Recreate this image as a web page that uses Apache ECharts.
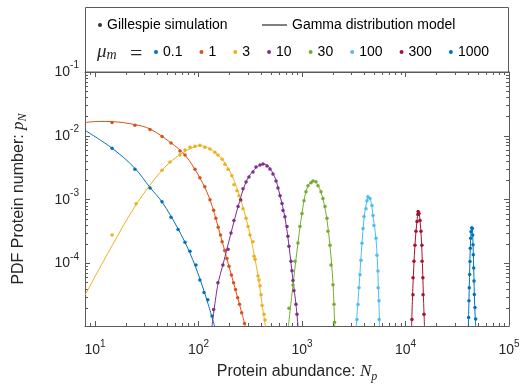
<!DOCTYPE html>
<html>
<head>
<meta charset="utf-8">
<script src="https://cdn.jsdelivr.net/npm/echarts@6/dist/echarts.min.js"></script>
<style>
  html, body { margin: 0; padding: 0; background: #fff; }
  #main { width: 524px; height: 388px; }
</style>
</head>
<body>
<div id="main"></div>
<script>
// mu_m values and MATLAB default colours
const muLabels = ['0.1', '1', '3', '10', '30', '100', '300', '1000'];
const muColors = ['#0072BD', '#D95319', '#EDB120', '#7E2F8E', '#77AC30', '#4DBEEE', '#A2142F', '#0072BD'];

const xTicks = [10, 100, 1000, 10000, 100000];
const yTicks = [1e-4, 1e-3, 1e-2, 1e-1];

// Gillespie simulation points [N_p, p_N]
const simMu01 = [[14.6, 6.4e-3], [24.3, 3.0e-3], [34, 1.53e-3], [44.4, 9.3e-4], [54.2, 5.3e-4], [63.4, 3.4e-4], [74, 2.15e-4],
  [82.7, 1.56e-4], [94.5, 9.5e-5], [103, 5.5e-5], [113, 3.5e-5], [123, 2.7e-5], [135, 1.5e-5]];
const simMu1 = [[14.6, 0.0162], [24.3, 0.0146], [34, 0.0126], [44.4, 0.0098], [54.2, 0.0077], [66.2, 0.0058], [74, 0.005],
  [92.5, 0.003], [103, 0.0022], [115, 0.0016], [129, 0.001], [140, 6.8e-4], [147, 5.1e-4], [155, 3.7e-4], [163, 2.8e-4],
  [169, 2.2e-4], [179, 1.6e-4], [188, 1.2e-4], [197, 9.1e-5], [208, 6.6e-5], [218, 5.0e-5], [228, 3.9e-5], [239, 2.9e-5],
  [249, 2.3e-5], [261, 1.7e-5], [278, 1.15e-5]];
const simMu3 = [[14.6, 2.8e-4], [24.9, 8.6e-4], [44.4, 2.9e-3], [53, 3.9e-3], [66.2, 5.0e-3], [74, 6.0e-3], [82.8, 6.6e-3],
  [92.5, 6.9e-3], [103, 7.1e-3], [115, 6.6e-3], [129, 6.2e-3], [144, 5.55e-3], [154, 5.0e-3], [169, 4.3e-3], [180, 3.6e-3],
  [193, 3.0e-3], [210, 2.36e-3], [220, 1.71e-3], [235, 1.38e-3], [246, 1.15e-3], [257, 9.6e-4], [269, 7.2e-4], [288, 5.1e-4],
  [301, 3.8e-4], [314, 2.8e-4], [336, 2.2e-4], [344, 1.3e-4], [352, 1.17e-4], [376, 6.4e-5], [384, 5.5e-5], [393, 4.5e-5],
  [402, 3.25e-5], [411, 2.2e-5], [430, 1.6e-5], [439, 1.3e-5]];
const simMu10 = [[140, 1.9e-5], [154, 5.0e-5], [172, 9.5e-5], [193, 1.68e-4], [206, 3.0e-4], [220, 4.7e-4], [241, 7.8e-4],
  [255, 1.0e-3], [269, 1.48e-3], [288, 1.9e-3], [307, 2.27e-3], [336, 2.72e-3], [359, 3.25e-3], [393, 3.49e-3], [420, 3.62e-3],
  [459, 3.37e-3], [490, 3.03e-3], [524, 2.53e-3], [561, 1.97e-3], [586, 1.53e-3], [613, 1.15e-3], [641, 8.7e-4], [655, 6.75e-4],
  [684, 5.4e-4], [716, 3.8e-4], [731, 2.67e-4], [748, 1.87e-4], [782, 1.09e-4], [800, 7.7e-5], [818, 5.4e-5], [836, 3.75e-5],
  [874, 2.3e-5], [894, 1.6e-5]];
const simMu30 = [[748, 2.0e-5], [818, 4.6e-5], [855, 1.09e-4], [914, 2.1e-4], [955, 3.8e-4], [999, 6.1e-4], [1045, 9.6e-4],
  [1092, 1.33e-3], [1142, 1.65e-3], [1221, 1.84e-3], [1276, 1.97e-3], [1364, 1.91e-3], [1426, 1.65e-3], [1525, 1.33e-3],
  [1594, 1.04e-3], [1667, 7.8e-4], [1743, 5.1e-4], [1782, 3.2e-4], [1863, 1.94e-4], [1904, 9.5e-5], [1991, 4.65e-5],
  [2036, 2.3e-5], [2060, 1.2e-5]];
const simMu100 = [[3396, 1.33e-5], [3475, 2.27e-5], [3551, 4.17e-5], [3631, 6.64e-5], [3715, 1.13e-4], [3796, 2.08e-4],
  [3884, 3.55e-4], [3972, 5.44e-4], [4150, 7.24e-4], [4246, 9.64e-4], [4335, 1.11e-3], [4539, 1.04e-3], [4742, 8.07e-4],
  [4853, 5.65e-4], [4955, 3.95e-4], [5188, 2.48e-4], [5297, 1.35e-4], [5420, 7.66e-5], [5440, 4.17e-5], [5546, 2.62e-5],
  [5560, 1.33e-5]];
const simMu300 = [[11540, 1.33e-5], [11800, 3.25e-5], [11820, 5.96e-5], [12070, 1.09e-4], [12340, 1.94e-4], [12620, 3.19e-4],
  [12910, 4.56e-4], [13150, 5.85e-4], [13250, 6.52e-4], [13500, 6.07e-4], [13800, 4.72e-4], [14110, 3.19e-4], [14400, 1.94e-4],
  [14460, 1.09e-4], [14720, 5.96e-5], [14780, 3.25e-5], [15080, 1.6e-5]];
const simMu1000 = [[40740, 1.43e-5], [41020, 2.6e-5], [41300, 4.17e-5], [41690, 6.7e-5], [41980, 1.08e-4], [42270, 1.74e-4],
  [42660, 2.48e-4], [42950, 3.15e-4], [43640, 3.64e-4], [44200, 3.55e-4], [44570, 2.8e-4], [44880, 1.96e-4], [45190, 1.37e-4],
  [45600, 8.5e-5], [45920, 5.3e-5], [46220, 3.28e-5], [46900, 2.04e-5], [47640, 1.35e-5]];

// Gamma distribution model curves
const fitMu01 = [[8, 0.0122], [14.6, 0.0064], [24.3, 0.0031], [34, 0.00155], [44.4, 9.2e-4], [63.4, 3.5e-4], [82.7, 1.45e-4],
  [103, 5.8e-5], [123, 2.4e-5], [144, 1.0e-5]];
const fitMu1 = [[8, 0.0162], [11, 0.0168], [14.6, 0.0167], [24.3, 0.015], [34, 0.0128], [54, 0.0078], [74, 0.005], [103, 0.0022],
  [129, 0.001], [155, 3.7e-4], [197, 9.0e-5], [239, 2.9e-5], [285, 1.0e-5]];
const fitMu3 = [[8, 3.2e-5], [14.6, 1.9e-4], [24.9, 8.3e-4], [44.4, 2.9e-3], [66.2, 5.1e-3], [92.5, 6.8e-3], [103, 7.0e-3],
  [129, 6.3e-3], [169, 4.3e-3], [210, 2.4e-3], [257, 9.8e-4], [314, 2.9e-4], [376, 6.4e-5], [411, 2.3e-5], [445, 1.0e-5]];
const fitMu10 = [[135, 1.05e-5], [154, 4.8e-5], [172, 9.5e-5], [206, 3.0e-4], [241, 7.8e-4], [288, 1.9e-3], [336, 2.8e-3],
  [393, 3.5e-3], [440, 3.6e-3], [490, 3.1e-3], [561, 2.0e-3], [613, 1.15e-3], [684, 5.3e-4], [748, 1.9e-4], [818, 5.4e-5],
  [874, 2.3e-5], [914, 1.05e-5]];
const fitMu30 = [[740, 1.05e-5], [818, 4.6e-5], [914, 2.1e-4], [999, 6.1e-4], [1092, 1.35e-3], [1200, 1.85e-3], [1300, 1.98e-3],
  [1426, 1.7e-3], [1594, 1.03e-3], [1743, 4.8e-4], [1863, 1.9e-4], [1991, 5.0e-5], [2070, 1.05e-5]];
const fitMu100 = [[3340, 1.05e-5], [3551, 4.2e-5], [3796, 2.1e-4], [4000, 5.6e-4], [4246, 9.8e-4], [4400, 1.11e-3],
  [4600, 1.0e-3], [4853, 5.6e-4], [5188, 2.4e-4], [5420, 6.5e-5], [5620, 1.05e-5]];
const fitMu300 = [[11450, 1.05e-5], [11800, 4.5e-5], [12340, 1.95e-4], [12910, 4.6e-4], [13350, 6.5e-4], [13800, 4.8e-4],
  [14430, 1.5e-4], [14900, 3.0e-5], [15250, 1.05e-5]];
const fitMu1000 = [[40500, 1.05e-5], [41300, 4.2e-5], [42270, 1.75e-4], [43200, 3.4e-4], [43900, 3.65e-4], [44570, 2.85e-4],
  [45600, 8.5e-5], [46600, 2.2e-5], [47700, 1.05e-5]];

const simSets = [simMu01, simMu1, simMu3, simMu10, simMu30, simMu100, simMu300, simMu1000];
const fitSets = [fitMu01, fitMu1, fitMu3, fitMu10, fitMu30, fitMu100, fitMu300, fitMu1000];

const X_MIN = 8, X_MAX = 1e5, Y_MIN = 1.05e-5, Y_MAX = 0.1;
const AXIS_COLOR = '#5a5a5a';
const TEXT_COLOR = '#262626';
const FONT = 'Liberation Sans';

// minor tick positions 2..9 x 10^n
const minorTicks = (lo, hi) => {
  const out = [];
  for (let d = Math.floor(Math.log10(lo)); d < Math.ceil(Math.log10(hi)); d++) {
    for (let k = 2; k <= 9; k++) {
      const v = k * Math.pow(10, d);
      if (v > lo && v < hi) out.push(v);
    }
  }
  return out;
};

const powLabel = v => '{b|10}{s|' + Math.round(Math.log10(v)) + '}';
const powRich = {
  b: { fontSize: 14, color: TEXT_COLOR, fontFamily: FONT },
  s: { fontSize: 10, color: TEXT_COLOR, fontFamily: FONT, padding: [0, 0, 13, 0] }
};

const makeAxis = (dim, position, major, withLabels) => {
  const isX = dim === 'x';
  const ticks = major ? (isX ? xTicks : yTicks) : (isX ? minorTicks(X_MIN, X_MAX) : minorTicks(Y_MIN, Y_MAX));
  const ax = {
    type: 'log',
    position: position,
    min: isX ? X_MIN : Y_MIN,
    max: isX ? X_MAX : Y_MAX,
    axisLine: { show: major, lineStyle: { color: AXIS_COLOR, width: 1 } },
    axisTick: { show: true, inside: true, length: major ? 5 : 3, customValues: ticks, lineStyle: { color: AXIS_COLOR, width: 1 } },
    axisLabel: { show: false },
    splitLine: { show: false },
    minorTick: { show: false },
    minorSplitLine: { show: false }
  };
  if (withLabels) {
    ax.axisLabel = {
      show: true,
      customValues: ticks,
      formatter: powLabel,
      rich: powRich,
      margin: isX ? 13 : 6
    };
  }
  return ax;
};

const xAxes = [makeAxis('x', 'bottom', true, true), makeAxis('x', 'bottom', false, false),
  makeAxis('x', 'top', true, false), makeAxis('x', 'top', false, false)];
xAxes[0].name = 'Protein abundance: {i|N}{sub|p}';
xAxes[0].nameLocation = 'middle';
xAxes[0].nameGap = 35;
xAxes[0].nameTextStyle = {
  fontSize: 16, color: TEXT_COLOR, fontFamily: FONT,
  rich: {
    i: { fontSize: 17, fontFamily: 'Liberation Serif', fontStyle: 'italic', color: TEXT_COLOR },
    sub: { fontSize: 12, fontFamily: 'Liberation Serif', fontStyle: 'italic', color: TEXT_COLOR, padding: [10, 0, 0, 0] }
  }
};

const yAxes = [makeAxis('y', 'left', true, true), makeAxis('y', 'left', false, false),
  makeAxis('y', 'right', true, false), makeAxis('y', 'right', false, false)];
yAxes[0].name = 'PDF Protein number: {i|p}{sub|N}';
yAxes[0].nameLocation = 'middle';
yAxes[0].nameGap = 56;
yAxes[0].nameTextStyle = {
  fontSize: 16, color: TEXT_COLOR, fontFamily: FONT,
  rich: {
    i: { fontSize: 17, fontFamily: 'Liberation Serif', fontStyle: 'italic', color: TEXT_COLOR },
    sub: { fontSize: 12, fontFamily: 'Liberation Serif', fontStyle: 'italic', color: TEXT_COLOR, padding: [9, 0, 0, 0] }
  }
};

const series = [];
fitSets.forEach((d, i) => {
  series.push({
    name: muLabels[i], type: 'line', data: d, smooth: 0.35, showSymbol: false, silent: true,
    lineStyle: { color: muColors[i], width: 1 }, itemStyle: { color: muColors[i] }, z: 2
  });
});
simSets.forEach((d, i) => {
  series.push({
    name: muLabels[i], type: 'scatter', data: d, symbol: 'circle', symbolSize: 3.5, silent: true,
    itemStyle: { color: muColors[i], opacity: 1 }, z: 3
  });
});
// legend-only entries
series.push({ name: 'Gillespie simulation', type: 'scatter', data: [], itemStyle: { color: '#000' } });
series.push({ name: 'Gamma distribution model', type: 'line', data: [], lineStyle: { color: '#000' }, itemStyle: { color: '#000' } });

const legendText = { fontSize: 14, color: '#000', fontFamily: FONT };

const option = {
  animation: false,
  backgroundColor: '#fff',
  textStyle: { fontFamily: FONT },
  grid: { left: 85, right: 15, top: 72, bottom: 59, containLabel: false },
  xAxis: xAxes,
  yAxis: yAxes,
  legend: [
    {
      data: [{ name: 'Gillespie simulation', icon: 'circle' }],
      left: 98, top: 18, padding: 0, itemWidth: 4, itemHeight: 4,
      selectedMode: false, textStyle: legendText
    },
    {
      data: [{ name: 'Gamma distribution model', icon: 'rect' }],
      left: 262, top: 18, padding: 0, itemWidth: 25, itemHeight: 1,
      selectedMode: false, textStyle: legendText
    },
    {
      data: muLabels.map(n => ({ name: n, icon: 'circle' })),
      left: 154, top: 45, padding: 0, itemWidth: 4, itemHeight: 4, itemGap: 17,
      selectedMode: false, textStyle: legendText
    }
  ],
  graphic: [
    {
      type: 'rect', silent: true, z: 10,
      shape: { x: 85.5, y: 7.5, width: 423, height: 64.5 },
      style: { fill: 'none', stroke: AXIS_COLOR, lineWidth: 1 }
    },
    {
      type: 'text', silent: true, left: 97, top: 42,
      style: {
        text: '{mu|μ}{m|m}',
        rich: {
          mu: { fontSize: 19, fontFamily: 'Liberation Serif', fontStyle: 'italic', fill: TEXT_COLOR },
          m: { fontSize: 14, fontFamily: 'Liberation Serif', fontStyle: 'italic', fill: TEXT_COLOR, padding: [7, 0, 0, 0] }
        }
      }
    },
    {
      type: 'text', silent: true, left: 130, top: 43,
      style: { text: '=', fontSize: 22, fontFamily: 'Liberation Serif', fill: TEXT_COLOR }
    }
  ],
  series: series
};

const chart = echarts.init(document.getElementById('main'), null, { renderer: 'canvas' });
chart.setOption(option);
</script>
</body>
</html>
